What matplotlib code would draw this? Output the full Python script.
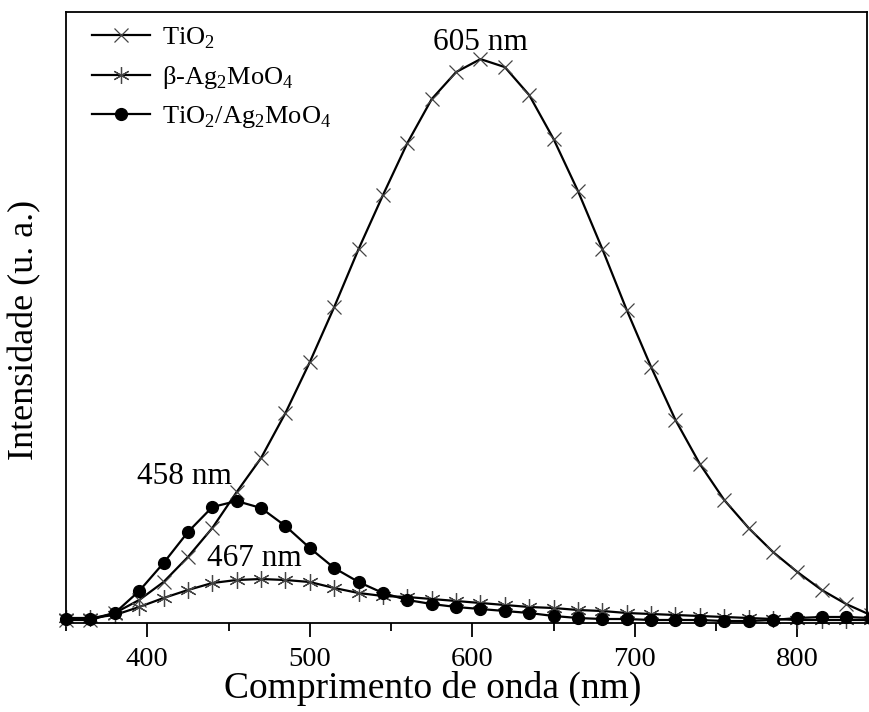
import matplotlib
matplotlib.use("Agg")
import matplotlib.pyplot as plt
from matplotlib.ticker import MultipleLocator

plt.rcParams["font.family"] = ["Liberation Serif", "DejaVu Serif"]
plt.rcParams["mathtext.fontset"] = "custom"
plt.rcParams["mathtext.rm"] = "Liberation Serif"

# wavelength grid (nm), one point every 15 nm
wl = [350, 365, 380, 395, 410, 425, 440, 455, 470, 485, 500, 515, 530, 545,
      560, 575, 590, 605, 620, 635, 650, 665, 680, 695, 710, 725, 740, 755,
      770, 785, 800, 815, 830, 845]

# PL intensities (a.u.)
tio2 = [3, 3, 10, 23, 41, 66, 95, 131, 165, 210, 261, 316, 374, 428,
        480, 524, 551, 564, 556, 528, 484, 432, 374, 313, 256, 203, 159, 123,
        95, 71, 51, 33, 19, 8]
ag2moo4 = [5, 5, 8, 16, 25, 33, 40, 43, 44, 43, 41, 35, 30, 27,
           26, 24, 22, 20, 18, 16, 15, 13, 12, 10, 9, 8, 7, 6,
           5, 4, 3, 3, 3, 3]
composite = [4, 4, 10, 32, 60, 91, 116, 122, 115, 97, 75, 55, 41, 30,
             23, 19, 16, 14, 12, 10, 7, 5, 4, 4, 3, 3, 3, 2,
             2, 3, 5, 6, 6, 5]

fig = plt.figure(figsize=(8.69, 7.12), dpi=100)
ax = fig.add_axes([0.076, 0.125, 0.922, 0.858])

ax.plot(wl, tio2, color="black", lw=1.6, marker="x", ms=9.5, mew=0.9,
        mec="#444444", label=r"TiO$_2$", clip_on=False)
ax.plot(wl, ag2moo4, color="black", lw=1.6, marker=(6, 2, 0), ms=12, mew=0.9,
        mec="#444444", label=r"β-Ag$_2$MoO$_4$", clip_on=False)
ax.plot(wl, composite, color="black", lw=1.6, marker="o", ms=8.5,
        mfc="black", mec="black", label=r"TiO$_2$/Ag$_2$MoO$_4$", clip_on=False)

ax.text(605, 581, "605 nm", ha="center", va="center", fontsize=22.5)
ax.text(423, 147, "458 nm", ha="center", va="center", fontsize=22.5)
ax.text(466, 65, "467 nm", ha="center", va="center", fontsize=22.5)

ax.set_xlim(350, 843)
ax.set_ylim(0, 611)
ax.xaxis.set_major_locator(MultipleLocator(100))
ax.xaxis.set_minor_locator(MultipleLocator(50))
ax.tick_params(axis="x", which="major", direction="out", length=10, width=1.3,
               labelsize=20.5, pad=7)
ax.tick_params(axis="x", which="minor", direction="out", length=6, width=1.3)
ax.set_yticks([])
for s in ax.spines.values():
    s.set_linewidth(1.3)

ax.set_xlabel("Comprimento de onda (nm)", fontsize=27)
ax.set_ylabel("Intensidade (u. a.)", fontsize=26)
ax.xaxis.set_label_coords(0.457, -0.078)
ax.yaxis.set_label_coords(-0.031, 0.48)

ax.legend(loc="upper left", frameon=False, fontsize=19, handlelength=2.2,
          handletextpad=0.45, labelspacing=0.5, borderpad=0.0,
          bbox_to_anchor=(0.016, 1.0))

fig.savefig("out.png", dpi=100)
